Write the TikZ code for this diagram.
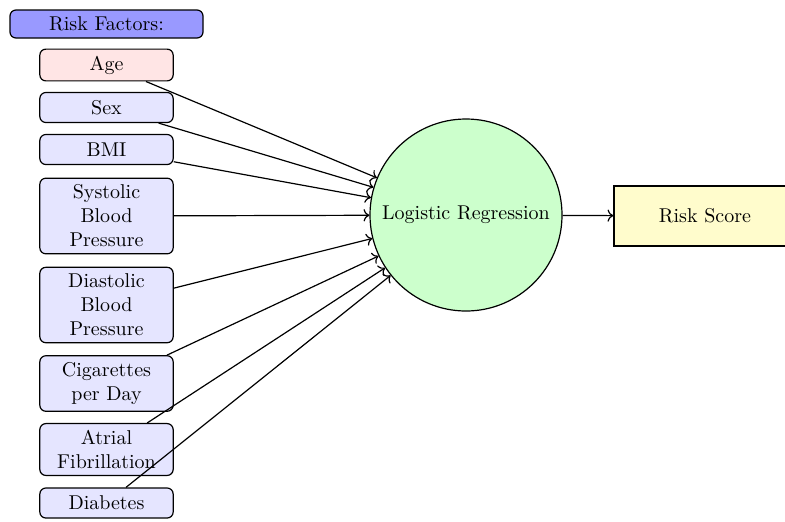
\documentclass[tikz,border=0pt]{standalone}
\usepackage{tikz}
\usetikzlibrary{arrows.meta}

\begin{document}
\begin{tikzpicture}[x=0.5pt,y=-0.5pt,>=To,line width=0.6pt,
  factor/.style={draw,rounded corners=3pt,fill=blue!10,text width=60pt,align=center,minimum height=15pt,inner sep=3.33pt},
  header/.style={draw,rounded corners=3pt,fill=blue!40,minimum width=96.5pt,minimum height=14pt},
  model/.style={draw,circle,fill=green!20,minimum size=96pt,inner sep=0pt},
  outcome/.style={draw,fill=yellow!20,minimum width=91pt,minimum height=30pt}]
\useasboundingbox(0,0) rectangle (785,521);
\node[header](rf) at (106.5,24){Risk Factors:};
\node[factor,fill=red!10](age) at (106.5,65){Age};
\node[factor](sex) at (106.5,107.5){Sex};
\node[factor](bmi) at (106.5,149.5){BMI};
\node[factor](sbp) at (106.5,216){Systolic\\Blood\\Pressure};
\node[factor](dbp) at (106.5,305){Diastolic\\Blood\\Pressure};
\node[factor](cig) at (106.5,383.5){Cigarettes\\per Day};
\node[factor](af) at (106.5,449.5){Atrial\\Fibrillation};
\node[factor](diab) at (106.5,503){Diabetes};
\node[model](lr) at (466,215){Logistic Regression};
\node[outcome](score) at (705,216){Risk Score};
% inputs into the model, then the model into the score
\foreach \f in {age,sex,bmi,sbp,dbp,cig,af,diab}
  \draw[->](\f)--(lr);
\draw[->](lr)--(score);
\end{tikzpicture}
\end{document}
